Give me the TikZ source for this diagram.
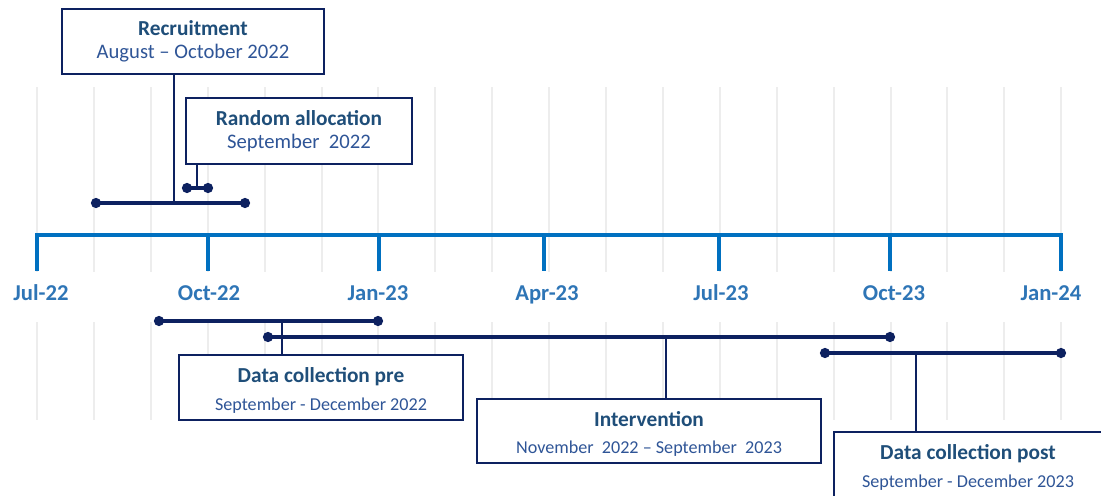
\documentclass[tikz,border=0pt]{standalone}
\usepackage{fontspec}
\setmainfont{Carlito}
\usepackage{tikz}
\usetikzlibrary{arrows.meta,positioning}
\definecolor{navy}{HTML}{0D2160}
\definecolor{axisblue}{HTML}{0070C0}
\definecolor{labelblue}{HTML}{2E75B6}
\definecolor{titleblue}{HTML}{1F4E79}
\definecolor{subblue}{HTML}{2F5597}
\definecolor{gridgray}{HTML}{EDEDED}

\tikzset{
  gridline/.style={gridgray, line width=1.5pt},
  axisline/.style={axisblue, line width=2.4pt},
  ticklabel/.style={labelblue, anchor=base, font=\fontsize{17}{19}\selectfont\bfseries},
  bar/.style={navy, line width=2.3pt, {Circle[length=7.5pt]}-{Circle[length=7.5pt]},
    shorten <=-3.75pt, shorten >=-3.75pt},
  link/.style={navy, line width=0.9pt},
  phasebox/.style={draw=navy, line width=1.6pt, fill=white, align=center,
    inner sep=0pt, minimum height=48.75pt},
}

\begin{document}
\begin{tikzpicture}[x=0.75pt, y=-0.75pt]
   % Sizes
   \pgfmathsetmacro{\mon}{56.9}
   \useasboundingbox (0,0) rectangle (1101,496);

   % grid
   \foreach \m in {0,...,18} {
     \draw[gridline] ({37+\mon*\m},87) -- ({37+\mon*\m},272);
     \draw[gridline] ({37+\mon*\m},322) -- ({37+\mon*\m},420);
   }

   % axis
   \draw[axisline] (37,271) -- (37,235) -- (1061,235) -- (1061,271);
   \foreach \x in {208, 379, 544, 719, 890}
     \draw[axisline] (\x,235) -- (\x,271);
   \foreach \x/\lab in {41/Jul-22, 209/Oct-22, 378/Jan-23, 547/Apr-23, 721/Jul-23, 894/Oct-23, 1051/Jan-24}
     \node[ticklabel] (t-\lab) at (\x,300.5) {\lab};

   % boxes
   \node[phasebox, minimum width=196.5pt] (rec) at (193,41.5)
     {{\color{titleblue}\fontsize{16}{18}\selectfont\bfseries Recruitment}\\[5pt]
      {\color{subblue}\fontsize{15.5}{17}\selectfont August -- October 2022}};
   \node[phasebox, minimum width=169.5pt, minimum height=49.5pt] (ra) at (299,131)
     {{\color{titleblue}\fontsize{16}{18}\selectfont\bfseries Random allocation}\\[5pt]
      {\color{subblue}\fontsize{15.5}{17}\selectfont September\ \ 2022}};
   \node[phasebox, minimum width=213pt] (pre) at (321,387.5)
     {{\color{titleblue}\fontsize{16}{18}\selectfont\bfseries\rule{0pt}{15.5pt}Data collection pre}\\[8.5pt]
      {\color{subblue}\fontsize{13.6}{15}\selectfont September - December 2022}};
   \node[phasebox, minimum width=258pt, minimum height=48pt] (int) at (649,431)
     {{\color{titleblue}\fontsize{16}{18}\selectfont\bfseries\rule{0pt}{15.5pt}Intervention}\\[8.5pt]
      {\color{subblue}\fontsize{13.6}{15}\selectfont November\ \ 2022 -- September\ \ 2023}};
   \node[phasebox, minimum width=201pt] (post) at (968,464.5)
     {{\color{titleblue}\fontsize{16}{18}\selectfont\bfseries\rule{0pt}{15.5pt}Data collection post}\\[8.5pt]
      {\color{subblue}\fontsize{13.6}{15}\selectfont September - December 2023}};

   % bars
   \coordinate (rec-a) at (96,203);
   \coordinate (rec-b) at (245,203);
   \coordinate (rec-c) at (174,203);
   \coordinate (ra-a) at (187,188);
   \coordinate (ra-b) at (208,188);
   \coordinate (ra-c) at (197,188);
   \coordinate (pre-a) at (159,321);
   \coordinate (pre-b) at (378,321);
   \coordinate (pre-c) at (282,321);
   \coordinate (int-a) at (268,337);
   \coordinate (int-b) at (890,337);
   \coordinate (int-c) at (666,337);
   \coordinate (post-a) at (825,353);
   \coordinate (post-b) at (1061,353);
   \coordinate (post-c) at (916,353);

   \draw[link] (rec-c) -- (rec-c |- rec.south);
   \draw[link] (ra-c) -- (ra-c |- ra.south);
   \draw[link] (pre-c) -- (pre-c |- pre.north);
   \draw[link] (int-c) -- (int-c |- int.north);
   \draw[link] (post-c) -- (post-c |- post.north);

   \draw[bar] (rec-a) -- (rec-b);
   \draw[bar] (ra-a) -- (ra-b);
   \draw[bar] (pre-a) -- (pre-b);
   \draw[bar] (int-a) -- (int-b);
   \draw[bar] (post-a) -- (post-b);
\end{tikzpicture}
\end{document}
